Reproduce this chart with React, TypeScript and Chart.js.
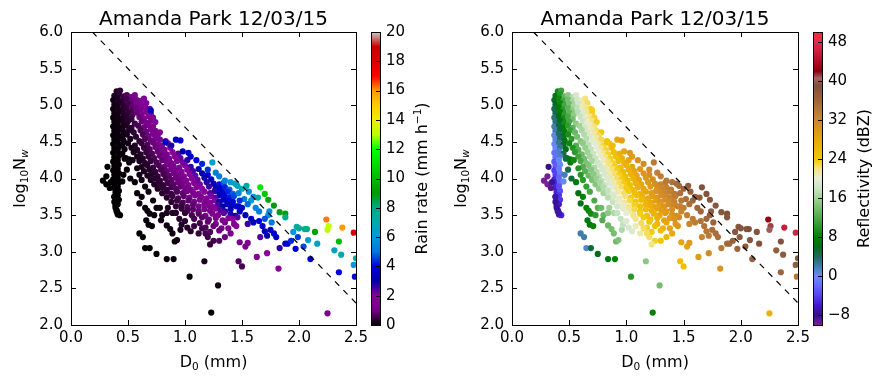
import React, { useEffect, useRef } from 'react';
import { Chart, registerables } from 'chart.js';

Chart.register(...registerables);

const FONT = '"DejaVu Sans", "Liberation Sans", sans-serif';

const titleText = 'Amanda Park 12/03/15';
const xTickValues = [0, 0.5, 1, 1.5, 2, 2.5];
const yTickValues = [2, 2.5, 3, 3.5, 4, 4.5, 5, 5.5, 6];
const rainTicks = [0, 2, 4, 6, 8, 10, 12, 14, 16, 18, 20];
const reflTicks = [-8, 0, 8, 16, 24, 32, 40, 48];
const rainRange = [0, 20];
const reflRange = [-10, 50];

// convective / stratiform separation line (dashed)
const sepLineD0 = [0.1875, 2.5];
const sepLineLogNw = [6.0, 2.3];

// D0 (mm)
const d0 = [
  0.40, 0.43,
  0.38, 0.42, 0.46, 0.49, 0.53, 0.56,
  0.37, 0.41, 0.45, 0.49, 0.53, 0.57, 0.61, 0.64,
  0.38, 0.42, 0.46, 0.50, 0.54, 0.58, 0.62, 0.66,
  0.37, 0.41, 0.45, 0.49, 0.53, 0.57, 0.61, 0.65, 0.69,
  0.38, 0.42, 0.46, 0.50, 0.54, 0.58, 0.62, 0.66, 0.70,
  0.37, 0.41, 0.45, 0.49, 0.53, 0.60, 0.64, 0.68, 0.72,
  0.38, 0.42, 0.46, 0.50, 0.56, 0.62, 0.66, 0.70, 0.74,
  0.37, 0.41, 0.45, 0.49, 0.53, 0.59, 0.64, 0.68, 0.72,
  0.38, 0.42, 0.46, 0.51, 0.55, 0.61, 0.66, 0.70, 0.74, 0.78,
  0.37, 0.41, 0.45, 0.49, 0.57, 0.63, 0.68, 0.72, 0.76,
  0.38, 0.42, 0.46, 0.52, 0.60, 0.65, 0.70, 0.74, 0.78, 0.83,
  0.37, 0.41, 0.45, 0.50, 0.56, 0.62, 0.67, 0.72, 0.76, 0.80, 0.85,
  0.38, 0.42, 0.47, 0.53, 0.58, 0.64, 0.69, 0.74, 0.78, 0.82, 0.87,
  0.37, 0.41, 0.45, 0.55, 0.61, 0.66, 0.71, 0.76, 0.80, 0.84, 0.89, 0.94,
  0.38, 0.42, 0.48, 0.58, 0.63, 0.68, 0.73, 0.78, 0.82, 0.86, 0.91, 0.96,
  0.37, 0.41, 0.51, 0.60, 0.65, 0.70, 0.75, 0.80, 0.84, 0.88, 0.93, 0.98, 1.02,
  0.38, 0.42, 0.62, 0.67, 0.72, 0.77, 0.82, 0.86, 0.90, 0.95, 1.00, 1.05,
  0.37, 0.41, 0.64, 0.69, 0.74, 0.79, 0.84, 0.88, 0.92, 0.97, 1.02, 1.07, 1.12,
  0.38, 0.42, 0.67, 0.71, 0.76, 0.81, 0.86, 0.90, 0.94, 0.99, 1.04, 1.09, 1.15, 1.20,
  0.37, 0.41, 0.70, 0.74, 0.78, 0.83, 0.88, 0.92, 0.96, 1.01, 1.06, 1.11, 1.17, 1.23,
  0.38, 0.42, 0.73, 0.77, 0.81, 0.85, 0.90, 0.94, 0.98, 1.03, 1.08, 1.13, 1.19, 1.25, 1.30, 1.34,
  0.38, 0.41, 0.76, 0.80, 0.84, 0.88, 0.92, 0.96, 1.00, 1.05, 1.10, 1.15, 1.21, 1.27, 1.31, 1.35, 1.39,
  0.39, 0.42, 0.80, 0.84, 0.88, 0.93, 0.98, 1.02, 1.07, 1.12, 1.17, 1.22, 1.26, 1.30, 1.34, 1.38, 1.42,
  0.38, 0.41, 0.84, 0.89, 0.94, 0.99, 1.04, 1.09, 1.14, 1.19, 1.23, 1.27, 1.31, 1.35, 1.39, 1.43,
  0.39, 0.42, 0.88, 0.93, 0.98, 1.03, 1.08, 1.13, 1.18, 1.22, 1.26, 1.30, 1.34, 1.38, 1.42,
  0.39, 0.41, 0.92, 0.97, 1.02, 1.07, 1.12, 1.17, 1.21, 1.25, 1.29, 1.33, 1.37, 1.41, 1.45,
  0.40, 0.97, 1.02, 1.07, 1.12, 1.17, 1.22, 1.27, 1.31, 1.35, 1.40,
  0.41, 1.00, 1.06, 1.12, 1.18, 1.24, 1.29, 1.34, 1.40, 1.44,
  1.08, 1.15, 1.21, 1.27, 1.33, 1.38,
  1.13, 1.20, 1.27, 1.35,
  1.18, 1.25, 1.32,
  1.22, 1.30,
  // small-drop hook
  0.28, 0.31, 0.34, 0.31, 0.32, 0.35, 0.38, 0.39, 0.40, 0.43, 0.41, 0.38, 0.45,
  // below the band
  0.47, 0.51, 0.54, 0.49, 0.46, 0.52, 0.58, 0.60, 0.62, 0.56,
  0.65, 0.68, 0.62, 0.60, 0.65, 0.67, 0.69, 0.58, 0.72, 0.75,
  0.73, 0.60, 0.63, 0.65, 0.69, 0.75, 0.66, 0.68, 0.71, 0.78,
  0.80, 0.79, 0.84, 0.87, 0.89, 0.91, 0.93, 0.84, 0.90, 0.84,
  0.89, 0.92, 0.96, 0.97, 0.85, 0.95, 1.00, 1.02, 1.05, 1.04,
  1.17, 1.29, 1.23, 1.08, 1.12, 1.15, 1.20, 1.25, 1.22, 1.18,
  1.35, 1.40, 1.30, 1.43, 1.38, 1.47, 1.50, 1.48, 1.53, 1.55,
  1.63, 1.72, 1.82, 2.25,
  // large-drop tail
  1.46, 1.50, 1.54, 1.56, 1.52, 1.58, 1.55, 1.60, 1.62, 1.65,
  1.50, 1.48, 1.53, 1.58, 1.60, 1.55, 1.65, 1.68, 1.70, 1.66,
  1.72, 1.75, 1.78, 1.80, 1.74, 1.73, 1.70, 1.76, 1.83, 1.88,
  1.90, 1.93, 1.97, 1.99, 1.95, 2.04, 2.08, 2.10, 2.16, 1.66,
  1.70, 1.73, 1.78, 1.83, 1.88, 1.88, 1.64, 1.98, 2.00, 2.05,
  2.07, 2.14, 2.24, 2.26, 2.25, 2.38, 2.48, 2.35, 2.31, 2.37,
  2.50, 2.48, 2.35, 2.49, 1.47, 1.48, 1.47, 1.46, 1.42, 1.45,
  // above the band
  0.83, 0.92, 0.96, 0.70, 0.88, 0.98, 1.03, 1.05, 1.10, 1.15, 1.24, 1.20, 1.27, 1.30, 1.35, 1.40, 1.44,
];

// log10 Nw
const logNw = [
  5.19, 5.20,
  5.13, 5.15, 5.12, 5.14, 5.11, 5.14,
  5.07, 5.09, 5.06, 5.08, 5.05, 5.08, 5.06, 5.09,
  5.01, 5.03, 5.00, 5.02, 4.99, 5.02, 5.00, 5.03,
  4.95, 4.97, 4.94, 4.96, 4.93, 4.96, 4.94, 4.97, 4.95,
  4.89, 4.91, 4.88, 4.90, 4.87, 4.90, 4.88, 4.91, 4.89,
  4.83, 4.85, 4.82, 4.84, 4.81, 4.84, 4.82, 4.85, 4.83,
  4.77, 4.79, 4.76, 4.78, 4.75, 4.78, 4.76, 4.79, 4.77,
  4.71, 4.73, 4.70, 4.72, 4.69, 4.72, 4.70, 4.73, 4.71,
  4.65, 4.67, 4.64, 4.66, 4.63, 4.66, 4.64, 4.67, 4.65, 4.63,
  4.59, 4.61, 4.58, 4.60, 4.57, 4.60, 4.58, 4.61, 4.59,
  4.53, 4.55, 4.52, 4.54, 4.51, 4.54, 4.52, 4.55, 4.53, 4.51,
  4.47, 4.49, 4.46, 4.48, 4.45, 4.48, 4.46, 4.49, 4.47, 4.45, 4.48,
  4.41, 4.43, 4.40, 4.42, 4.39, 4.42, 4.40, 4.43, 4.41, 4.39, 4.42,
  4.35, 4.37, 4.34, 4.36, 4.33, 4.36, 4.34, 4.37, 4.35, 4.33, 4.36, 4.34,
  4.29, 4.31, 4.28, 4.30, 4.27, 4.30, 4.28, 4.31, 4.29, 4.27, 4.30, 4.28,
  4.23, 4.25, 4.22, 4.24, 4.21, 4.24, 4.22, 4.25, 4.23, 4.21, 4.24, 4.22, 4.25,
  4.17, 4.19, 4.16, 4.18, 4.15, 4.18, 4.16, 4.19, 4.17, 4.15, 4.18, 4.16,
  4.11, 4.13, 4.10, 4.12, 4.09, 4.12, 4.10, 4.13, 4.11, 4.09, 4.12, 4.10, 4.13,
  4.05, 4.07, 4.04, 4.06, 4.03, 4.06, 4.04, 4.07, 4.05, 4.03, 4.06, 4.04, 4.07, 4.05,
  3.99, 4.01, 3.98, 4.00, 3.97, 4.00, 3.98, 4.01, 3.99, 3.97, 4.00, 3.98, 4.01, 3.99,
  3.93, 3.95, 3.92, 3.94, 3.91, 3.94, 3.92, 3.95, 3.93, 3.91, 3.94, 3.92, 3.95, 3.93, 3.92, 3.94,
  3.87, 3.89, 3.86, 3.88, 3.85, 3.88, 3.86, 3.89, 3.87, 3.85, 3.88, 3.86, 3.89, 3.87, 3.86, 3.88, 3.85,
  3.81, 3.83, 3.80, 3.82, 3.79, 3.82, 3.80, 3.83, 3.81, 3.79, 3.82, 3.80, 3.83, 3.81, 3.80, 3.82, 3.79,
  3.75, 3.77, 3.74, 3.76, 3.73, 3.76, 3.74, 3.77, 3.75, 3.73, 3.76, 3.74, 3.77, 3.75, 3.74, 3.76,
  3.69, 3.71, 3.68, 3.70, 3.67, 3.70, 3.68, 3.71, 3.69, 3.67, 3.70, 3.68, 3.71, 3.69, 3.68,
  3.63, 3.65, 3.62, 3.64, 3.61, 3.64, 3.62, 3.65, 3.63, 3.61, 3.64, 3.62, 3.65, 3.63, 3.62,
  3.57, 3.59, 3.56, 3.58, 3.55, 3.58, 3.56, 3.59, 3.57, 3.55, 3.58,
  3.51, 3.53, 3.50, 3.52, 3.49, 3.52, 3.50, 3.53, 3.51, 3.49,
  3.45, 3.47, 3.44, 3.46, 3.43, 3.46,
  3.39, 3.41, 3.38, 3.40,
  3.33, 3.35, 3.32,
  3.27, 3.29,
  3.97, 3.92, 3.87, 4.03, 4.16, 3.95, 3.68, 3.60, 3.55, 3.50, 3.53, 3.75, 3.96,
  4.27, 4.26, 4.25, 4.12, 4.05, 4.00, 4.14, 4.05, 3.98, 3.95,
  3.89, 3.82, 3.75, 3.66, 3.60, 3.56, 3.52, 3.80, 3.70, 3.60,
  3.50, 3.25, 3.20, 3.05, 3.05, 2.97, 3.43, 3.37, 3.35, 3.60,
  3.50, 3.43, 3.36, 3.31, 3.25, 3.14, 3.16, 2.90, 2.90, 3.53,
  3.53, 3.53, 3.30, 3.37, 3.60, 3.45, 3.42, 3.33, 3.28, 2.66,
  2.87, 2.54, 2.17, 3.35, 3.25, 3.32, 3.20, 3.15, 3.10, 3.25,
  3.20, 3.25, 3.15, 3.38, 3.32, 2.87, 2.80, 3.13, 3.07, 3.12,
  2.93, 2.98, 2.77, 2.16,
  3.90, 3.86, 3.90, 3.82, 3.72, 3.70, 3.65, 3.75, 3.60, 3.55,
  3.60, 3.55, 3.50, 3.45, 3.40, 3.38, 3.42, 3.35, 3.28, 3.20,
  3.22, 3.30, 3.25, 3.20, 3.55, 3.50, 3.45, 3.40, 3.05, 3.11,
  3.11, 3.15, 3.04, 3.20, 3.27, 3.07, 3.16, 2.90, 3.11, 3.88,
  3.79, 3.71, 3.63, 3.54, 3.52, 3.47, 3.74, 3.34, 3.32, 3.31,
  3.31, 3.27, 3.44, 3.35, 3.30, 3.33, 3.26, 3.14, 3.02, 2.96,
  2.91, 2.82, 2.72, 2.66, 3.80, 3.70, 3.62, 3.47, 3.45, 3.35,
  4.50, 4.53, 4.52, 4.93, 4.45, 4.37, 4.35, 4.30, 4.25, 4.20, 4.22, 4.12, 4.08, 4.03, 3.97, 3.95, 3.93,
];

// Rain rate (mm/h)
const rainRate = [
  0.30, 0.42,
  0.21, 0.33, 0.51, 0.68, 0.98, 1.27,
  0.16, 0.26, 0.40, 0.59, 0.86, 1.20, 1.65, 2.07,
  0.16, 0.25, 0.38, 0.57, 0.81, 1.14, 1.55, 2.07,
  0.12, 0.20, 0.30, 0.45, 0.65, 0.91, 1.25, 1.68, 2.23,
  0.12, 0.19, 0.29, 0.43, 0.62, 0.86, 1.18, 1.57, 2.07,
  0.09, 0.15, 0.23, 0.34, 0.49, 0.88, 1.19, 1.58, 2.06,
  0.09, 0.14, 0.22, 0.33, 0.55, 0.89, 1.19, 1.57, 2.04,
  0.07, 0.11, 0.17, 0.26, 0.37, 0.62, 0.90, 1.20, 1.56,
  0.07, 0.11, 0.17, 0.27, 0.39, 0.63, 0.91, 1.19, 1.55, 1.98,
  0.05, 0.09, 0.13, 0.20, 0.40, 0.64, 0.91, 1.19, 1.52,
  0.05, 0.08, 0.13, 0.23, 0.44, 0.64, 0.91, 1.17, 1.50, 2.00,
  0.04, 0.06, 0.10, 0.16, 0.28, 0.45, 0.64, 0.90, 1.16, 1.47, 1.95,
  0.04, 0.06, 0.11, 0.19, 0.29, 0.45, 0.64, 0.89, 1.14, 1.44, 1.90,
  0.03, 0.05, 0.08, 0.19, 0.31, 0.45, 0.64, 0.88, 1.11, 1.40, 1.84, 2.37,
  0.03, 0.05, 0.09, 0.22, 0.32, 0.45, 0.63, 0.86, 1.09, 1.36, 1.77, 2.28,
  0.02, 0.04, 0.10, 0.22, 0.32, 0.45, 0.63, 0.85, 1.06, 1.32, 1.71, 2.18, 2.63,
  0.02, 0.04, 0.22, 0.32, 0.45, 0.62, 0.83, 1.03, 1.28, 1.64, 2.09, 2.62,
  0.02, 0.03, 0.23, 0.32, 0.45, 0.61, 0.81, 1.00, 1.23, 1.58, 2.00, 2.49, 3.09,
  0.02, 0.03, 0.24, 0.32, 0.44, 0.59, 0.78, 0.97, 1.19, 1.51, 1.90, 2.37, 3.05, 3.72,
  0.01, 0.02, 0.26, 0.34, 0.43, 0.58, 0.76, 0.94, 1.14, 1.45, 1.81, 2.25, 2.88, 3.63,
  0.01, 0.02, 0.28, 0.35, 0.45, 0.56, 0.73, 0.90, 1.09, 1.38, 1.72, 2.13, 2.71, 3.41, 4.09, 4.72,
  0.01, 0.02, 0.29, 0.37, 0.46, 0.58, 0.71, 0.86, 1.05, 1.32, 1.63, 2.01, 2.55, 3.20, 3.70, 4.26, 4.88,
  0.01, 0.02, 0.32, 0.40, 0.50, 0.65, 0.83, 1.00, 1.25, 1.55, 1.90, 2.31, 2.69, 3.30, 3.80, 4.30, 4.80,
  0.01, 0.01, 0.35, 0.46, 0.59, 0.76, 0.95, 1.19, 1.47, 1.79, 2.09, 2.43, 3.30, 3.70, 4.20, 4.60,
  0.01, 0.01, 0.38, 0.49, 0.63, 0.79, 0.99, 1.22, 1.50, 1.75, 2.04, 3.00, 3.40, 3.70, 4.00,
  0.01, 0.01, 0.41, 0.52, 0.66, 0.83, 1.02, 1.26, 1.47, 1.71, 2.50, 3.00, 3.30, 3.60, 3.80,
  0.01, 0.45, 0.58, 0.72, 0.89, 1.09, 1.33, 1.60, 2.40, 2.90, 3.20,
  0.01, 0.46, 0.60, 0.78, 0.99, 1.25, 1.50, 2.30, 2.80, 3.00,
  0.57, 0.77, 0.97, 1.22, 1.51, 1.79,
  0.61, 0.81, 1.06, 1.41,
  0.65, 0.86, 1.10,
  0.67, 0.90,
  0, 0, 0, 0, 0, 0, 0.01, 0.01, 0.01, 0.01, 0.01, 0.01, 0.03,
  0.08, 0.11, 0.14, 0.07, 0.04, 0.07, 0.15, 0.15, 0.14, 0.08,
  0.15, 0.15, 0.09, 0.06, 0.08, 0.08, 0.08, 0.07, 0.15, 0.15,
  0.10, 0.02, 0.03, 0.02, 0.03, 0.03, 0.05, 0.05, 0.06, 0.18,
  0.16, 0.13, 0.14, 0.15, 0.15, 0.13, 0.15, 0.05, 0.07, 0.21,
  0.28, 0.32, 0.23, 0.29, 0.26, 0.31, 0.37, 0.33, 0.34, 0.08,
  0.22, 0.16, 0.05, 0.47, 0.43, 0.57, 0.52, 0.57, 0.45, 0.54,
  0.91, 1.21, 0.68, 1.80, 1.36, 0.70, 0.60, 1.19, 1.21, 1.44,
  1.80, 1.90, 1.80, 1.40,
  6.6, 6.8, 7.2, 5.8, 5.2, 6.0, 4.9, 6.0, 5.3, 5.2,
  3.7, 3.1, 3.3, 3.4, 3.2, 2.6, 3.9, 3.6, 3.2, 2.4,
  3.0, 3.8, 3.7, 3.5, 5.8, 5.8, 4.7, 5.0, 2.7, 3.5,
  3.6, 4.3, 3.7, 4.5, 5.9, 4.6, 6.3, 3.6, 6.6, 11.4,
  10.4, 9.4, 8.9, 8.8, 9.2, 7.8, 7.2, 7.3, 7.5, 7.8,
  8.0, 9.2, 16.2, 13.2, 13.0, 16.0, 18.0, 10.0, 6.6, 7.0,
  7.2, 6.0, 4.0, 4.0, 5.4, 4.4, 3.6, 2.4, 2.0, 1.8,
  3.5, 3.2, 3.9, 3.4, 2.8, 3.0, 3.6, 3.5, 3.9, 4.3, 6.4, 4.4, 5.2, 5.2, 5.4, 6.1, 6.6,
];

// Reflectivity (dBZ)
const reflectivity = [
  9, 11,
  7, 10, 13, 15, 17, 19,
  5.5, 8.6, 11.4, 14, 16.4, 18.6, 20.7, 22.1,
  5.7, 8.7, 11.5, 14, 16.4, 18.5, 20.6, 22.5,
  4.3, 7.4, 10.2, 12.8, 15.2, 17.4, 19.5, 21.4, 23.2,
  4.5, 7.5, 10.3, 12.8, 15.2, 17.3, 19.4, 21.3, 23.1,
  3.1, 6.2, 9, 11.6, 14, 17.8, 19.7, 21.6, 23.3,
  3.3, 6.3, 9.1, 11.6, 15.1, 18.2, 20.1, 21.9, 23.5,
  1.9, 5, 7.8, 10.4, 12.8, 16.1, 18.5, 20.4, 22.1,
  2.1, 5.1, 7.9, 11, 13.3, 16.5, 18.9, 20.7, 22.3, 24,
  0.7, 3.8, 6.6, 9.2, 13.8, 16.9, 19.2, 20.9, 22.6,
  0.9, 3.9, 6.7, 10.4, 14.8, 17.2, 19.5, 21.1, 22.8, 24.6,
  -0.5, 2.6, 5.4, 8.6, 12.1, 15.2, 17.5, 19.7, 21.4, 22.9, 24.8,
  -0.3, 2.7, 6.1, 9.8, 12.5, 15.5, 17.8, 19.9, 21.6, 23.1, 24.9,
  -1.7, 1.4, 4.2, 10.3, 13.5, 15.9, 18.1, 20.2, 21.7, 23.2, 25, 26.6,
  -1.5, 1.5, 5.6, 11.3, 13.9, 16.2, 18.3, 20.4, 21.9, 23.3, 25, 26.7,
  -2.9, 0.2, 6.8, 11.8, 14.2, 16.5, 18.6, 20.5, 22, 23.4, 25.1, 26.7, 27.9,
  -2.7, 0.3, 12.2, 14.5, 16.7, 18.8, 20.7, 22.1, 23.5, 25.1, 26.7, 28.2,
  -4.1, -1, 12.5, 14.8, 16.9, 18.9, 20.8, 22.2, 23.6, 25.2, 26.7, 28.2, 29.5,
  -3.9, -0.9, 13.3, 15.1, 17.2, 19.1, 20.9, 22.3, 23.6, 25.2, 26.7, 28.1, 29.8, 31,
  -5.3, -2.2, 14.1, 15.7, 17.4, 19.2, 21, 22.4, 23.7, 25.2, 26.7, 28.1, 29.7, 31.2,
  -5.1, -2.1, 14.7, 16.4, 17.9, 19.4, 21.1, 22.4, 23.7, 25.2, 26.6, 28, 29.6, 31.1, 32.3, 33.2,
  -5.7, -3.4, 15.4, 16.9, 18.4, 19.8, 21.2, 22.5, 23.7, 25.2, 26.6, 28, 29.5, 31, 31.9, 32.8, 33.7,
  -5.5, -3.3, 16.3, 17.8, 19.2, 20.9, 22.5, 23.7, 25.2, 26.5, 27.9, 29.2, 30.1, 31.1, 32, 32.9, 33.8,
  -6.9, -4.6, 17.2, 19, 20.6, 22.2, 23.7, 25.1, 26.5, 27.8, 28.8, 29.8, 30.7, 31.6, 32.5, 33.4,
  -6.7, -4.5, 18, 19.7, 21.3, 22.8, 24.2, 25.6, 26.9, 28, 28.9, 29.9, 30.8, 31.7, 32.6,
  -7.3, -5.8, 18.8, 20.4, 21.9, 23.4, 24.7, 26.1, 27.1, 28.1, 29, 30, 30.9, 31.8, 32.6,
  -7.2, 19.8, 21.3, 22.8, 24.1, 25.5, 26.8, 28, 28.9, 29.8, 30.9,
  -7, 20.1, 21.9, 23.5, 25.1, 26.6, 27.8, 29, 30.3, 31.2,
  21.8, 23.8, 25.3, 26.8, 28.2, 29.3,
  22.6, 24.4, 26.2, 28,
  23.3, 25.1, 26.7,
  23.8, 25.7,
  -10, -10, -9, -10, -8, -7.4, -7.6, -7.6, -7.4, -5.7, -6.8, -6.9, 0.2,
  4.7, 7.1, 8.8, 4.5, 1.9, 5.1, 9.8, 10, 10.3, 6.9,
  10.8, 11.5, 8, 6.1, 7.9, 8.4, 8.9, 6.4, 12, 12.3,
  10.4, 2, 2, 1, 5, 6, 6.7, 7, 8.1, 13.5,
  13.2, 12.1, 13.3, 13.9, 14, 13.5, 14.4, 7, 8, 15,
  16.8, 17.8, 16.8, 17.8, 16, 17.9, 19.2, 18.9, 19.3, 10,
  15, 14, 8, 20.8, 20.9, 22.5, 22.5, 23.3, 22, 22.5,
  26.1, 27.7, 24.5, 29.7, 28, 25.4, 25.3, 28.2, 28.6, 29.5,
  29.2, 31.3, 30, 27,
  35.5, 35.9, 37.1, 36.7, 34.9, 35.9, 34.8, 36.8, 35.7, 35.7,
  33.3, 32.4, 32.9, 33.4, 33.3, 32.1, 34.4, 34.3, 33.9, 32.4,
  33.7, 35, 35, 34.9, 37.3, 36.7, 35.6, 36.2, 33.9, 35.3,
  35.6, 36.5, 36, 37.9, 38, 37.4, 38.2, 36.6, 38.5, 38.5,
  38.3, 38, 38, 38, 38.5, 38, 37.4, 38.2, 38.3, 38.6,
  38.8, 39.2, 42.5, 41, 40.6, 46, 47, 38.5, 37, 37.5,
  38, 37, 36, 34, 34.7, 33.9, 32.9, 31.2, 30.2, 29.8,
  24.3, 27.8, 29, 23.5, 25.6, 28.1, 29.4, 29.5, 30.4, 31.3, 33.7, 31.7, 33.1, 33.3, 33.8, 34.7, 35.4,
];

type Stop = [number, number, number, number];

// nipy_spectral on 0..20 mm/h
const rainStops: Stop[] = [
  [0, 0, 0, 0], [1, 119, 0, 136], [2, 136, 0, 153], [3, 0, 0, 170], [4, 0, 0, 221],
  [5, 0, 119, 221], [6, 0, 153, 221], [7, 0, 170, 170], [8, 0, 170, 136], [9, 0, 153, 0],
  [10, 0, 187, 0], [11, 0, 221, 0], [12, 0, 255, 0], [13, 187, 255, 0], [14, 238, 238, 0],
  [15, 255, 204, 0], [16, 255, 153, 0], [17, 255, 0, 0], [18, 221, 0, 0], [19, 204, 0, 0],
  [20, 204, 204, 204],
];

const reflStops: Stop[] = [
  [-10, 120, 30, 150], [-8, 55, 15, 140], [-6, 65, 25, 200], [-4, 85, 65, 240], [-2, 100, 105, 255],
  [0, 105, 140, 250], [2, 65, 125, 170], [4, 30, 105, 90], [6, 0, 110, 25], [8, 0, 130, 0],
  [10, 40, 150, 40], [13, 100, 180, 95], [16, 160, 210, 150], [18, 200, 228, 195], [20, 232, 236, 212],
  [22, 245, 228, 130], [24, 242, 200, 0], [27, 235, 175, 10], [30, 220, 148, 30], [33, 195, 128, 50],
  [36, 155, 100, 60], [39, 125, 80, 60], [40.5, 160, 100, 100], [42, 140, 0, 10], [45, 190, 20, 50],
  [48, 225, 45, 80], [50, 255, 40, 60],
];

function colorAt(stops: Stop[], v: number): string {
  if (v <= stops[0][0]) return `rgb(${stops[0][1]},${stops[0][2]},${stops[0][3]})`;
  for (let i = 1; i < stops.length; i++) {
    const a = stops[i - 1];
    const b = stops[i];
    if (v <= b[0]) {
      const t = (v - a[0]) / (b[0] - a[0]);
      const r = Math.round(a[1] + (b[1] - a[1]) * t);
      const g = Math.round(a[2] + (b[2] - a[2]) * t);
      const bl = Math.round(a[3] + (b[3] - a[3]) * t);
      return `rgb(${r},${g},${bl})`;
    }
  }
  const l = stops[stops.length - 1];
  return `rgb(${l[1]},${l[2]},${l[3]})`;
}

type Seg = { t: string; size: number; dy?: number; italic?: boolean };

function drawRich(ctx: CanvasRenderingContext2D, segs: Seg[], cx: number, cy: number, rot: number) {
  ctx.save();
  ctx.translate(cx, cy);
  ctx.rotate(rot);
  ctx.fillStyle = '#000';
  ctx.textBaseline = 'alphabetic';
  ctx.textAlign = 'left';
  const fontOf = (s: Seg) => `${s.italic ? 'italic ' : ''}${s.size}px ${FONT}`;
  let w = 0;
  for (const s of segs) {
    ctx.font = fontOf(s);
    w += ctx.measureText(s.t).width;
  }
  let x = -w / 2;
  for (const s of segs) {
    ctx.font = fontOf(s);
    ctx.fillText(s.t, x, s.dy || 0);
    x += ctx.measureText(s.t).width;
  }
  ctx.restore();
}

const titleSegs: Seg[] = [{ t: titleText, size: 20 }];
const xLabel: Seg[] = [
  { t: 'D', size: 16 },
  { t: '0', size: 10.5, dy: 3 },
  { t: ' (mm)', size: 16 },
];
const yLabel: Seg[] = [
  { t: 'log', size: 16 },
  { t: '10', size: 10.5, dy: 3 },
  { t: 'N', size: 16 },
  { t: 'w', size: 10.5, dy: 3, italic: true },
];
const rainLabel: Seg[] = [
  { t: 'Rain rate (mm h', size: 16 },
  { t: '\u22121', size: 10.5, dy: -6 },
  { t: ')', size: 16 },
];
const reflLabel: Seg[] = [{ t: 'Reflectivity (dBZ)', size: 16 }];

type PanelParams = {
  values: number[];
  stops: Stop[];
  range: number[];
  ticks: number[];
  label: Seg[];
  cbWidth: number;
};

function buildConfig(p: PanelParams): any {
  const n = Math.min(d0.length, logNw.length, p.values.length);
  const pts: { x: number; y: number }[] = [];
  const colors: string[] = [];
  for (let i = 0; i < n; i++) {
    pts.push({ x: d0[i], y: logNw[i] });
    colors.push(colorAt(p.stops, p.values[i]));
  }
  const line = sepLineD0.map((x, i) => ({ x, y: sepLineLogNw[i] }));
  const tickFont = { family: FONT, size: 15 };
  const fmt1 = (v: any) => Number(v).toFixed(1);

  const decor = {
    id: 'decor',
    afterDatasetsDraw(chart: any) {
      const { ctx, chartArea: a, scales } = chart;
      const xs = scales.x;
      const ys = scales.y;
      const cb = scales.cb;
      const L = Math.round(a.left);
      const R = Math.round(a.right);
      const T = Math.round(a.top);
      const B = Math.round(a.bottom);
      ctx.save();
      ctx.strokeStyle = '#000';
      ctx.lineWidth = 1;
      ctx.beginPath();
      for (const v of xTickValues) {
        const px = Math.round(xs.getPixelForValue(v)) + 0.5;
        ctx.moveTo(px, B);
        ctx.lineTo(px, B - 5);
        ctx.moveTo(px, T);
        ctx.lineTo(px, T + 5);
      }
      for (const v of yTickValues) {
        const py = Math.round(ys.getPixelForValue(v)) + 0.5;
        ctx.moveTo(L, py);
        ctx.lineTo(L + 5, py);
        ctx.moveTo(R, py);
        ctx.lineTo(R - 5, py);
      }
      ctx.stroke();
      ctx.strokeRect(L + 0.5, T + 0.5, R - L, B - T);

      // colour bar
      const top = Math.round(cb.getPixelForValue(p.range[1]));
      const bottom = Math.round(cb.getPixelForValue(p.range[0]));
      const bx = R + 15;
      const bw = 9;
      const g = ctx.createLinearGradient(0, bottom, 0, top);
      for (const s of p.stops) {
        g.addColorStop((s[0] - p.range[0]) / (p.range[1] - p.range[0]), `rgb(${s[1]},${s[2]},${s[3]})`);
      }
      ctx.fillStyle = g;
      ctx.fillRect(bx, top, bw, bottom - top);
      ctx.strokeRect(bx + 0.5, top + 0.5, bw, bottom - top);
      ctx.beginPath();
      for (const v of p.ticks) {
        const py = Math.round(cb.getPixelForValue(v)) + 0.5;
        ctx.moveTo(bx + bw, py);
        ctx.lineTo(bx + bw - 4, py);
      }
      ctx.stroke();
      ctx.restore();

      const cx = (a.left + a.right) / 2;
      const cy = (a.top + a.bottom) / 2;
      drawRich(ctx, titleSegs, cx, 25, 0);
      drawRich(ctx, xLabel, cx, 367, 0);
      drawRich(ctx, yLabel, 25, cy, -Math.PI / 2);
      drawRich(ctx, p.label, a.right + 71, cy, -Math.PI / 2);
    },
  };

  return {
    type: 'scatter',
    data: {
      datasets: [
        {
          type: 'line',
          data: line,
          borderColor: '#000',
          borderWidth: 1.2,
          borderDash: [6, 6],
          pointRadius: 0,
          fill: false,
          order: 0,
        },
        {
          type: 'scatter',
          data: pts,
          pointRadius: 3.1,
          pointHoverRadius: 3.1,
          pointBackgroundColor: colors,
          backgroundColor: colors,
          pointBorderWidth: 0,
          borderWidth: 0,
          order: 1,
        },
      ],
    },
    options: {
      animation: false,
      responsive: false,
      events: [],
      layout: { padding: { top: 32, left: 0, right: 0, bottom: 0 } },
      plugins: {
        legend: { display: false },
        tooltip: { enabled: false },
        title: { display: false },
      },
      scales: {
        x: {
          type: 'linear',
          min: 0,
          max: 2.5,
          grid: { display: false, drawTicks: false },
          border: { display: false },
          ticks: { font: tickFont, color: '#000', padding: 4, autoSkip: false, maxRotation: 0, callback: fmt1 },
          afterBuildTicks: (s: any) => { s.ticks = xTickValues.map((v) => ({ value: v })); },
          afterFit: (s: any) => { s.height = 61; },
        },
        y: {
          type: 'linear',
          position: 'left',
          min: 2,
          max: 6,
          grid: { display: false, drawTicks: false },
          border: { display: false },
          ticks: { font: tickFont, color: '#000', padding: 8, autoSkip: false, callback: fmt1 },
          afterBuildTicks: (s: any) => { s.ticks = yTickValues.map((v) => ({ value: v })); },
          afterFit: (s: any) => { s.width = 71; },
        },
        cb: {
          type: 'linear',
          position: 'right',
          min: p.range[0],
          max: p.range[1],
          grid: { display: false, drawTicks: true, tickLength: 26 },
          border: { display: false },
          ticks: {
            font: tickFont,
            color: '#000',
            padding: 4,
            autoSkip: false,
            callback: (v: any) => (Number(v) < 0 ? '\u2212' + Math.abs(Number(v)) : String(v)),
          },
          afterBuildTicks: (s: any) => { s.ticks = p.ticks.map((v) => ({ value: v })); },
          afterFit: (s: any) => { s.width = p.cbWidth; },
        },
      },
    },
    plugins: [decor],
  };
}

export default function App() {
  const leftRef = useRef<HTMLCanvasElement>(null);
  const rightRef = useRef<HTMLCanvasElement>(null);

  useEffect(() => {
    const left = new Chart(leftRef.current as HTMLCanvasElement, buildConfig({
      values: rainRate,
      stops: rainStops,
      range: rainRange,
      ticks: rainTicks,
      label: rainLabel,
      cbWidth: 87,
    }));
    const right = new Chart(rightRef.current as HTMLCanvasElement, buildConfig({
      values: reflectivity,
      stops: reflStops,
      range: reflRange,
      ticks: reflTicks,
      label: reflLabel,
      cbWidth: 88,
    }));
    return () => {
      left.destroy();
      right.destroy();
    };
  }, []);

  return (
    <div style={{ position: 'fixed', left: 0, top: 0, width: 886, height: 386, background: '#fff', overflow: 'hidden' }}>
      <canvas ref={leftRef} width={443} height={386} style={{ position: 'absolute', left: 0, top: 0 }} />
      <canvas ref={rightRef} width={445} height={386} style={{ position: 'absolute', left: 441, top: 0 }} />
    </div>
  );
}
